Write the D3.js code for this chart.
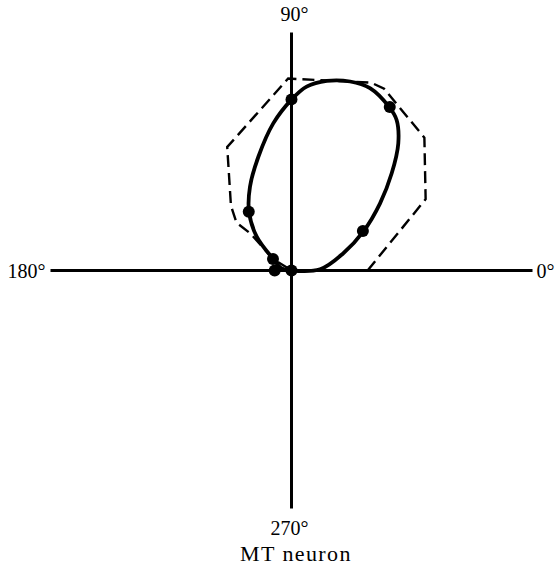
<!DOCTYPE html>
<html>
<head>
<meta charset="utf-8">
<script src="https://cdn.jsdelivr.net/npm/d3@7"></script>
<style>
  html, body { margin: 0; padding: 0; background: #fff; }
  svg { display: block; }
  text { font-family: "Liberation Serif", "DejaVu Serif", serif; fill: #000; }
</style>
</head>
<body>
<svg id="chart" width="558" height="571"></svg>
<script>
// Measured responses: direction of motion (deg) and response (arbitrary units, axis = 100)
const directions = [0, 29, 59, 90, 126, 148, 180];
const responses  = [0, 34, 79.5, 71.3, 30.3, 9.1, 7];

// Predicted (component) tuning, dashed outline: vertex directions and radii
const predDirections = [0, 28, 45, 63, 67, 91, 117.5, 133, 139, 138, 148, 180];
const predResponses  = [31.7, 63.3, 78.3, 85, 85, 80, 58, 37, 30.4, 23, 9, 0];

// Smooth fit through the measured responses, as x/y response components
const fitX = [0, 11.9, 21.6, 29.9, 36.9, 41.75, 44.5, 43.8, 40.6, 32.7, 24.4, 14.7, 6.3, 0.1,
              -7.6, -13.8, -17.3, -17.7, -14.5, -7.6, -4.1];
const fitY = [0, 0.5, 7.2, 16.2, 28, 40.5, 53, 62.7, 68.25, 76, 78.75, 79, 76.6, 71.3,
              61.3, 47.4, 34.9, 24.5, 14.1, 4.8, 0.9];

// Axis labels at the four cardinal directions
const axisLabels = [
  { angle: 0,   text: "0°"   },
  { angle: 90,  text: "90°"  },
  { angle: 180, text: "180°" },
  { angle: 270, text: "270°" }
];
const caption = "MT neuron";

const svg = d3.select("#chart");
const cx = 291.5, cy = 270.5;
const axisMax = 100;

// Cartesian scales in response units, centred on the origin
const x = d3.scaleLinear().domain([-axisMax, axisMax]).range([cx - 240, cx + 240]);
const y = d3.scaleLinear().domain([-axisMax, axisMax]).range([cy + 240, cy - 240]);

const rad = d => d * Math.PI / 180;
const px = (deg, v) => x(v * Math.cos(rad(deg)));
const py = (deg, v) => y(v * Math.sin(rad(deg)));

// Axes
const g = svg.append("g");
g.append("line")
  .attr("x1", x(-axisMax) - 1).attr("x2", x(axisMax) + 1)
  .attr("y1", y(0)).attr("y2", y(0))
  .attr("stroke", "#000").attr("stroke-width", 3);
g.append("line")
  .attr("x1", x(0)).attr("x2", x(0))
  .attr("y1", y(axisMax) + 2).attr("y2", y(-axisMax) - 2)
  .attr("stroke", "#000").attr("stroke-width", 3);

// Dashed predicted outline
const predPts = predDirections.map((d, i) => [px(d, predResponses[i]), py(d, predResponses[i])]);
svg.append("path")
  .attr("d", d3.line().curve(d3.curveLinearClosed)(predPts))
  .attr("fill", "none").attr("stroke", "#000")
  .attr("stroke-width", 2.4).attr("stroke-dasharray", "12,6");

// Fitted tuning curve
const fitPts = fitX.map((v, i) => [x(v), y(fitY[i])]);
svg.append("path")
  .attr("d", d3.line().curve(d3.curveCatmullRomClosed.alpha(0.5))(fitPts))
  .attr("fill", "none").attr("stroke", "#000").attr("stroke-width", 3.8)
  .attr("stroke-linejoin", "round");

// Data points
svg.selectAll("circle.pt")
  .data(directions.map((d, i) => ({ d, v: responses[i] })))
  .join("circle")
  .attr("class", "pt")
  .attr("cx", p => px(p.d, p.v))
  .attr("cy", p => py(p.d, p.v))
  .attr("r", 6)
  .attr("fill", "#000");

// Direction labels
const labelPos = {
  0:   { x: x(axisMax) + 5,   y: y(0) + 7 },
  90:  { x: x(0) - 11,        y: 21 },
  180: { x: x(-axisMax) - 44, y: y(0) + 7 },
  270: { x: x(0) - 21,        y: 535 }
};
svg.selectAll("text.dir")
  .data(axisLabels)
  .join("text")
  .attr("class", "dir")
  .attr("x", d => labelPos[d.angle].x)
  .attr("y", d => labelPos[d.angle].y)
  .attr("font-size", 20)
  .text(d => d.text);

svg.append("text")
  .attr("x", 296).attr("y", 561)
  .attr("text-anchor", "middle")
  .attr("font-size", 22)
  .attr("letter-spacing", 1.4)
  .text(caption);
</script>
</body>
</html>
